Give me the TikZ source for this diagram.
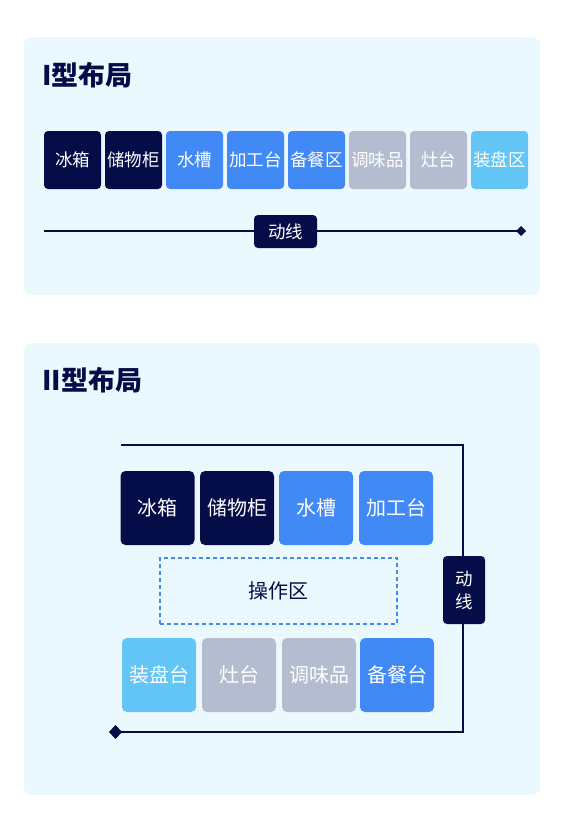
\documentclass[tikz,border=0pt]{standalone}
\usepackage{fontspec}
\setmainfont{Noto Sans CJK SC}
\usetikzlibrary{arrows.meta}
\definecolor{navy}{RGB}{5,13,72}
\definecolor{azure}{RGB}{65,137,244}
\definecolor{slate}{RGB}{179,189,207}
\definecolor{sky}{RGB}{98,197,245}
\definecolor{panelbg}{RGB}{235,248,254}
\begin{document}
\begin{tikzpicture}[x=1pt,y=-1pt,
		panel/.style={fill=panelbg,rounded corners=8pt},
		title/.style={anchor=west,inner sep=0pt,text=navy,font=\fontsize{27}{30}\selectfont\bfseries},
		cellA/.style={minimum width=57pt,minimum height=58pt,inner sep=0pt,rounded corners=4pt,text=white,font=\fontsize{17.5}{20}\selectfont},
		cellB/.style={minimum width=74pt,minimum height=74pt,inner sep=0pt,rounded corners=5pt,text=white,font=\fontsize{20}{22}\selectfont},
		tag/.style={fill=navy,rounded corners=4pt,inner sep=0pt,text=white,font=\fontsize{17.5}{23}\selectfont},
		flow/.style={draw=navy,line width=2pt,line join=miter}]
					\useasboundingbox (0,0) rectangle (588,830);
					% I layout
					\fill [panel] (24,37) rectangle (540,295);
					\node [title] (title1) at (42,75) {I型布局};
					\node [cellA,fill=navy] (ice1) at (72.5,160) {冰箱};
					\node [cellA,fill=navy] (store1) at (133.5,160) {储物柜};
					\node [cellA,fill=azure] (sink1) at (194.5,160) {水槽};
					\node [cellA,fill=azure] (prep1) at (255.5,160) {加工台};
					\node [cellA,fill=azure] (serve1) at (316.5,160) {备餐区};
					\node [cellA,fill=slate] (spice1) at (377.5,160) {调味品};
					\node [cellA,fill=slate] (stove1) at (438.5,160) {灶台};
					\node [cellA,fill=sky] (plate1) at (499.5,160) {装盘区};
					\coordinate (from1) at (44,231);
					\coordinate (to1) at (526,231);
					\draw [flow,-{Diamond[length=10pt,width=10pt]}] (from1) -- (to1);
					\node [tag,minimum width=63pt,minimum height=33pt] (move1) at (285.5,231.5) {动线};
					% II layout
					\fill [panel] (24,343) rectangle (540,795);
					\node [title] (title2) at (42,380) {II型布局};
					\coordinate (from2) at (121,445);
					\coordinate (turn2a) at (463,445);
					\coordinate (turn2b) at (463,732);
					\coordinate (to2) at (109,732);
					\draw [flow,line width=2.5pt,-{Diamond[length=13pt,width=14pt]}] (from2) -- (turn2a) -- (turn2b) -- (to2);
					\node [cellB,fill=navy] (ice2) at (157.5,508) {冰箱};
					\node [cellB,fill=navy] (store2) at (237,508) {储物柜};
					\node [cellB,fill=azure] (sink2) at (316,508) {水槽};
					\node [cellB,fill=azure] (prep2) at (396,508) {加工台};
					\node [draw=azure,dash pattern=on 4pt off 3pt,line width=1.5pt,minimum width=237pt,minimum height=66pt,inner sep=0pt,text=navy,font=\fontsize{20}{22}\selectfont] (work2) at (278.5,591) {操作区};
					\node [cellB,fill=sky] (plate2) at (159,675) {装盘台};
					\node [cellB,fill=slate] (stove2) at (239,675) {灶台};
					\node [cellB,fill=slate] (spice2) at (319,675) {调味品};
					\node [cellB,fill=azure] (serve2) at (397,675) {备餐台};
					\node [tag,minimum width=42pt,minimum height=68pt,align=center] (move2) at (464,590) {动\\线};
				\end{tikzpicture}
\end{document}
